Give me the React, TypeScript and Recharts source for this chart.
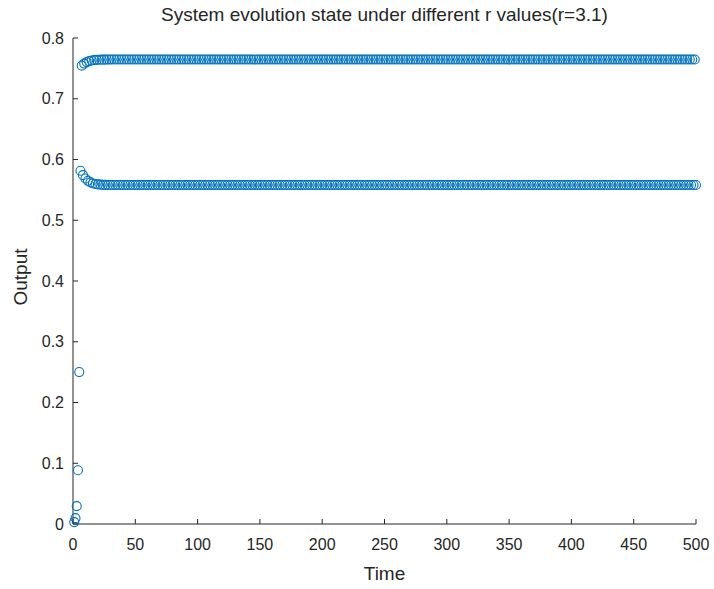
import { ScatterChart, Scatter, XAxis, YAxis } from 'recharts'

const earlyOutput = [
  0.0031, 0.0096, 0.0294, 0.0885, 0.2501, 0.5814, 0.7545, 0.5742, 0.7579, 0.5688,
  0.7603, 0.5649, 0.7619, 0.5623, 0.763, 0.5606, 0.7636, 0.5596, 0.764, 0.559,
  0.7642, 0.5586, 0.7644, 0.5583, 0.7644, 0.5582, 0.7645, 0.5581, 0.7645, 0.5581,
]

// t = 31..500, the settled 2-cycle
const settledOutput = [
  0.7646, 0.558, 0.7646, 0.558, 0.7646, 0.558, 0.7646, 0.558, 0.7646, 0.558, 0.7646, 0.558, 0.7646, 0.558, 0.7646, 0.558, 0.7646, 0.558, 0.7646, 0.558,
  0.7646, 0.558, 0.7646, 0.558, 0.7646, 0.558, 0.7646, 0.558, 0.7646, 0.558, 0.7646, 0.558, 0.7646, 0.558, 0.7646, 0.558, 0.7646, 0.558, 0.7646, 0.558,
  0.7646, 0.558, 0.7646, 0.558, 0.7646, 0.558, 0.7646, 0.558, 0.7646, 0.558, 0.7646, 0.558, 0.7646, 0.558, 0.7646, 0.558, 0.7646, 0.558, 0.7646, 0.558,
  0.7646, 0.558, 0.7646, 0.558, 0.7646, 0.558, 0.7646, 0.558, 0.7646, 0.558, 0.7646, 0.558, 0.7646, 0.558, 0.7646, 0.558, 0.7646, 0.558, 0.7646, 0.558,
  0.7646, 0.558, 0.7646, 0.558, 0.7646, 0.558, 0.7646, 0.558, 0.7646, 0.558, 0.7646, 0.558, 0.7646, 0.558, 0.7646, 0.558, 0.7646, 0.558, 0.7646, 0.558,
  0.7646, 0.558, 0.7646, 0.558, 0.7646, 0.558, 0.7646, 0.558, 0.7646, 0.558, 0.7646, 0.558, 0.7646, 0.558, 0.7646, 0.558, 0.7646, 0.558, 0.7646, 0.558,
  0.7646, 0.558, 0.7646, 0.558, 0.7646, 0.558, 0.7646, 0.558, 0.7646, 0.558, 0.7646, 0.558, 0.7646, 0.558, 0.7646, 0.558, 0.7646, 0.558, 0.7646, 0.558,
  0.7646, 0.558, 0.7646, 0.558, 0.7646, 0.558, 0.7646, 0.558, 0.7646, 0.558, 0.7646, 0.558, 0.7646, 0.558, 0.7646, 0.558, 0.7646, 0.558, 0.7646, 0.558,
  0.7646, 0.558, 0.7646, 0.558, 0.7646, 0.558, 0.7646, 0.558, 0.7646, 0.558, 0.7646, 0.558, 0.7646, 0.558, 0.7646, 0.558, 0.7646, 0.558, 0.7646, 0.558,
  0.7646, 0.558, 0.7646, 0.558, 0.7646, 0.558, 0.7646, 0.558, 0.7646, 0.558, 0.7646, 0.558, 0.7646, 0.558, 0.7646, 0.558, 0.7646, 0.558, 0.7646, 0.558,
  0.7646, 0.558, 0.7646, 0.558, 0.7646, 0.558, 0.7646, 0.558, 0.7646, 0.558, 0.7646, 0.558, 0.7646, 0.558, 0.7646, 0.558, 0.7646, 0.558, 0.7646, 0.558,
  0.7646, 0.558, 0.7646, 0.558, 0.7646, 0.558, 0.7646, 0.558, 0.7646, 0.558, 0.7646, 0.558, 0.7646, 0.558, 0.7646, 0.558, 0.7646, 0.558, 0.7646, 0.558,
  0.7646, 0.558, 0.7646, 0.558, 0.7646, 0.558, 0.7646, 0.558, 0.7646, 0.558, 0.7646, 0.558, 0.7646, 0.558, 0.7646, 0.558, 0.7646, 0.558, 0.7646, 0.558,
  0.7646, 0.558, 0.7646, 0.558, 0.7646, 0.558, 0.7646, 0.558, 0.7646, 0.558, 0.7646, 0.558, 0.7646, 0.558, 0.7646, 0.558, 0.7646, 0.558, 0.7646, 0.558,
  0.7646, 0.558, 0.7646, 0.558, 0.7646, 0.558, 0.7646, 0.558, 0.7646, 0.558, 0.7646, 0.558, 0.7646, 0.558, 0.7646, 0.558, 0.7646, 0.558, 0.7646, 0.558,
  0.7646, 0.558, 0.7646, 0.558, 0.7646, 0.558, 0.7646, 0.558, 0.7646, 0.558, 0.7646, 0.558, 0.7646, 0.558, 0.7646, 0.558, 0.7646, 0.558, 0.7646, 0.558,
  0.7646, 0.558, 0.7646, 0.558, 0.7646, 0.558, 0.7646, 0.558, 0.7646, 0.558, 0.7646, 0.558, 0.7646, 0.558, 0.7646, 0.558, 0.7646, 0.558, 0.7646, 0.558,
  0.7646, 0.558, 0.7646, 0.558, 0.7646, 0.558, 0.7646, 0.558, 0.7646, 0.558, 0.7646, 0.558, 0.7646, 0.558, 0.7646, 0.558, 0.7646, 0.558, 0.7646, 0.558,
  0.7646, 0.558, 0.7646, 0.558, 0.7646, 0.558, 0.7646, 0.558, 0.7646, 0.558, 0.7646, 0.558, 0.7646, 0.558, 0.7646, 0.558, 0.7646, 0.558, 0.7646, 0.558,
  0.7646, 0.558, 0.7646, 0.558, 0.7646, 0.558, 0.7646, 0.558, 0.7646, 0.558, 0.7646, 0.558, 0.7646, 0.558, 0.7646, 0.558, 0.7646, 0.558, 0.7646, 0.558,
  0.7646, 0.558, 0.7646, 0.558, 0.7646, 0.558, 0.7646, 0.558, 0.7646, 0.558, 0.7646, 0.558, 0.7646, 0.558, 0.7646, 0.558, 0.7646, 0.558, 0.7646, 0.558,
  0.7646, 0.558, 0.7646, 0.558, 0.7646, 0.558, 0.7646, 0.558, 0.7646, 0.558, 0.7646, 0.558, 0.7646, 0.558, 0.7646, 0.558, 0.7646, 0.558, 0.7646, 0.558,
  0.7646, 0.558, 0.7646, 0.558, 0.7646, 0.558, 0.7646, 0.558, 0.7646, 0.558, 0.7646, 0.558, 0.7646, 0.558, 0.7646, 0.558, 0.7646, 0.558, 0.7646, 0.558,
  0.7646, 0.558, 0.7646, 0.558, 0.7646, 0.558, 0.7646, 0.558, 0.7646, 0.558,
]

const xTicks = [0, 50, 100, 150, 200, 250, 300, 350, 400, 450, 500]
const yTicks = [0, 0.1, 0.2, 0.3, 0.4, 0.5, 0.6, 0.7, 0.8]
const yTickLabels = ['0', '0.1', '0.2', '0.3', '0.4', '0.5', '0.6', '0.7', '0.8']

const output = [...earlyOutput, ...settledOutput]
const points = output.map((v, i) => ({ time: i + 1, output: v }))

const INK = '#262626'
const BLUE = '#0072BD'
const FONT = '"Liberation Sans", Arial, sans-serif'
const TICK_LEN = 5
const X_MARGIN = 15
const Y_MARGIN = 9

function XTick({ x, y, payload }: any) {
  const axisY = y - X_MARGIN
  return (
    <g>
      <line x1={x} x2={x} y1={axisY} y2={axisY - TICK_LEN} stroke={INK} />
      <text x={x} y={y} dy="0.71em" textAnchor="middle" fill={INK} fontSize={16} fontFamily={FONT}>
        {payload.value}
      </text>
    </g>
  )
}

function YTick({ x, y, payload, index }: any) {
  const axisX = x + Y_MARGIN
  return (
    <g>
      <line x1={axisX} x2={axisX + TICK_LEN} y1={y} y2={y} stroke={INK} />
      <text x={x} y={y} dy="0.35em" textAnchor="end" fill={INK} fontSize={16} fontFamily={FONT}>
        {yTickLabels[index] ?? payload.value}
      </text>
    </g>
  )
}

function Ring({ cx, cy }: any) {
  if (cx == null || cy == null) return null
  return <circle cx={cx} cy={cy} r={4.5} fill="none" stroke={BLUE} strokeWidth={1.1} />
}

export default function App() {
  return (
    <div style={{ position: 'absolute', left: 0, top: 0, width: 714, height: 589, background: '#fff', fontFamily: FONT }}>
      <div style={{ position: 'absolute', left: 73, width: 623, top: 4, textAlign: 'center', fontSize: 19, lineHeight: '22px', color: INK }}>
        System evolution state under different r values(r=3.1)
      </div>
      <div
        style={{
          position: 'absolute', left: 21, top: 277, fontSize: 19, lineHeight: '22px', color: INK,
          transform: 'translate(-50%, -50%) rotate(-90deg)', whiteSpace: 'nowrap',
        }}
      >
        Output
      </div>
      <ScatterChart width={714} height={589} margin={{ top: 38, right: 18, bottom: 0, left: 0 }}>
        <XAxis
          type="number"
          dataKey="time"
          domain={[0, 500]}
          ticks={xTicks}
          height={65}
          tickSize={0}
          tickMargin={X_MARGIN}
          tick={<XTick />}
          axisLine={{ stroke: INK }}
          tickLine={false}
          interval={0}
          label={{ value: 'Time', position: 'insideBottom', offset: 9, fill: INK, fontSize: 19, fontFamily: FONT }}
        />
        <YAxis
          type="number"
          dataKey="output"
          domain={[0, 0.8]}
          ticks={yTicks}
          width={73}
          tickSize={0}
          tickMargin={Y_MARGIN}
          tick={<YTick />}
          axisLine={{ stroke: INK }}
          tickLine={false}
          interval={0}
        />
        <Scatter data={points} dataKey="output" shape={<Ring />} isAnimationActive={false} />
      </ScatterChart>
    </div>
  )
}
